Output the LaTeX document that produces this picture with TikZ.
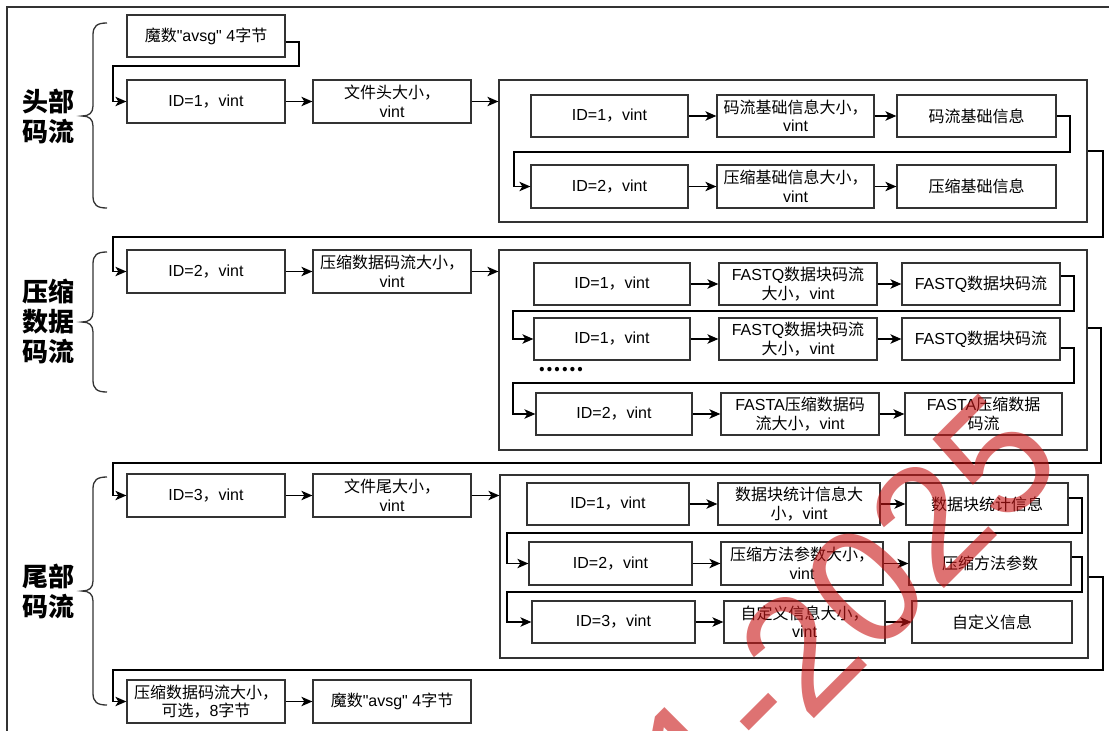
\documentclass[tikz,border=0pt]{standalone}
\usepackage{fontspec}
\setmainfont{Liberation Sans}[Ligatures=TeXOff]
\newfontfamily\cjkf{Noto Sans CJK SC}
\newcommand\C[1]{{\cjkf #1}}
\usetikzlibrary{arrows.meta}
\definecolor{ln}{RGB}{51,51,51}
\definecolor{wmred}{RGB}{200,20,20}
\tikzset{
  bx/.style={draw=ln, line width=1.3pt, inner sep=0pt, align=center, font=\fontsize{16}{18.5}\selectfont},
  arr/.style={draw=black, line width=1.2pt, -{Stealth[length=11pt,width=9.5pt,inset=3pt]}},
  brc/.style={draw=ln, line width=1.3pt},
  lab/.style={font=\fontsize{26}{30}\selectfont\cjkf\bfseries, align=center, inner sep=0pt},
  wm/.style={text=wmred, text opacity=0.6, font=\fontsize{165}{165}\selectfont, inner sep=0pt},
}
\newcommand\mybox[6]{\node[bx, minimum width={(#4-#2)*1pt}, minimum height={(#5-#3)*1pt}] (#1) at ({(#2+#4)/2},{(#3+#5)/2}) {#6};}
\newcommand\mybrace[3]{\draw[brc] (107,#1) .. controls (97,#1) and (93,#1+3) .. (93,#1+12) -- (93,#2-10) .. controls (93,#2-3) and (89,#2) .. (82,#2) .. controls (89,#2) and (93,#2+3) .. (93,#2+10) -- (93,#3-12) .. controls (93,#3-3) and (97,#3) .. (107,#3);}
\begin{document}
\begin{tikzpicture}[x=1pt,y=-1pt]
\useasboundingbox (0,0) rectangle (1109,731);
\fill[white] (0,0) rectangle (1109,731);
\draw[line width=2pt, draw=ln] (7,731) -- (7,7) -- (1109,7);

% labels and braces
\node[lab] (L1) at (48,116) {头部\\码流};
\node[lab] (L2) at (48,321) {压缩\\数据\\码流};
\node[lab] (L3) at (48,591) {尾部\\码流};
\mybrace{23}{116}{208}
\mybrace{252}{322}{392}
\mybrace{477}{591}{705}

% section 1
\mybox{m1}{127}{15}{285}{57}{\C{魔数}"avsg" 4\C{字节}}
\mybox{h1}{127}{80}{285}{123}{ID=1\C{，}vint}
\mybox{h2}{313}{80}{471}{123}{\C{文件头大小，}\\vint}
\mybox{F1}{499}{80}{1087}{222}{}
\mybox{a1}{531}{95}{688}{137}{ID=1\C{，}vint}
\mybox{a2}{717}{95}{874}{137}{\C{码流基础信息大小，}\\vint}
\mybox{a3}{897}{95}{1056}{137}{\C{码流基础信息}}
\mybox{b1}{531}{165}{688}{208}{ID=2\C{，}vint}
\mybox{b2}{717}{165}{874}{208}{\C{压缩基础信息大小，}\\vint}
\mybox{b3}{897}{165}{1056}{208}{\C{压缩基础信息}}

\draw[arr] ([yshift=-6pt]m1.east) -| (299,66) -- (113,66) |- (h1.west);
\draw[arr] (h1.east) -- (h2.west);
\draw[arr] (h2.east) -- (h2.east -| F1.west);
\draw[arr] (a1.east) -- (a2.west);
\draw[arr] (a2.east) -- (a3.west);
\draw[arr] (a3.east) -| (1070,152) -- (514,152) |- (b1.west);
\draw[arr] (b1.east) -- (b2.west);
\draw[arr] (b2.east) -- (b3.west);

% section 2
\mybox{s1}{127}{250}{285}{293}{ID=2\C{，}vint}
\mybox{s2}{313}{250}{471}{293}{\C{压缩数据码流大小，}\\vint}
\mybox{F2}{499}{250}{1087}{450}{}
\mybox{c1}{534}{263}{690}{305}{ID=1\C{，}vint}
\mybox{c2}{719}{263}{877}{305}{FASTQ\C{数据块码流}\\\C{大小，}vint}
\mybox{c3}{902}{263}{1060}{305}{FASTQ\C{数据块码流}}
\mybox{d1}{534}{318}{690}{360}{ID=1\C{，}vint}
\mybox{d2}{719}{318}{877}{360}{FASTQ\C{数据块码流}\\\C{大小，}vint}
\mybox{d3}{902}{318}{1060}{360}{FASTQ\C{数据块码流}}
\node[font=\fontsize{20}{20}\selectfont\cjkf\bfseries, inner sep=0pt] (dots) at (561,370) {……};
\mybox{e1}{536}{393}{692}{435}{ID=2\C{，}vint}
\mybox{e2}{721}{393}{879}{435}{FASTA\C{压缩数据码}\\\C{流大小，}vint}
\mybox{e3}{905}{393}{1062}{435}{FASTA\C{压缩数据}\\\C{码流}}

\draw[arr] (F1.east) -| (1103,237) -- (113,237) |- (s1.west);
\draw[arr] (s1.east) -- (s2.west);
\draw[arr] (s2.east) -- (s2.east -| F2.west);
\draw[arr] (c1.east) -- (c2.west);
\draw[arr] (c2.east) -- (c3.west);
\draw[arr] ([yshift=8pt]c3.east) -| (1074,311) -- (513,311) |- (d1.west);
\draw[arr] (d1.east) -- (d2.west);
\draw[arr] (d2.east) -- (d3.west);
\draw[arr] ([yshift=-9pt]d3.east) -| (1074,383) -- (513,383) |- (e1.west);
\draw[arr] (e1.east) -- (e2.west);
\draw[arr] (e2.east) -- (e3.west);

% section 3
\mybox{t1}{127}{474}{285}{517}{ID=3\C{，}vint}
\mybox{t2}{313}{474}{471}{517}{\C{文件尾大小，}\\vint}
\mybox{F3}{500}{475}{1088}{658}{}
\mybox{g1}{527}{483}{689}{525}{ID=1\C{，}vint}
\mybox{g2}{718}{483}{880}{525}{\C{数据块统计信息大}\\\C{小，}vint}
\mybox{g3}{906}{483}{1068}{525}{\C{数据块统计信息}}
\mybox{k1}{529}{542}{692}{585}{ID=2\C{，}vint}
\mybox{k2}{721}{542}{883}{585}{\C{压缩方法参数大小，}\\vint}
\mybox{k3}{909}{542}{1071}{585}{\C{压缩方法参数}}
\mybox{l1}{532}{601}{695}{643}{ID=3\C{，}vint}
\mybox{l2}{724}{601}{885}{643}{\C{自定义信息大小，}\\vint}
\mybox{l3}{912}{601}{1072}{643}{\C{自定义信息}}
\mybox{z1}{127}{680}{285}{723}{\C{压缩数据码流大小，}\\\C{可选，}8\C{字节}}
\mybox{z2}{313}{680}{471}{723}{\C{魔数}"avsg" 4\C{字节}}

\draw[arr] ([yshift=22pt]F2.east) -| (1101,463) -- (113,463) |- (t1.west);
\draw[arr] (t1.east) -- (t2.west);
\draw[arr] (t2.east) -- (t2.east -| F3.west);
\draw[arr] (g1.east) -- (g2.west);
\draw[arr] (g2.east) -- (g3.west);
\draw[arr] ([yshift=6pt]g3.east) -| (1082,533) -- (507,533) |- (k1.west);
\draw[arr] (k1.east) -- (k2.west);
\draw[arr] (k2.east) -- (k3.west);
\draw[arr] ([yshift=6.5pt]k3.east) -| (1082,592) -- (507,592) |- (l1.west);
\draw[arr] (l1.east) -- (l2.west);
\draw[arr] (l2.east) -- (l3.west);
\draw[arr] ([yshift=-10.5pt]F3.east) -| (1103,670) -- (113,670) |- (z1.west);
\draw[arr] (z1.east) -- (z2.west);

% watermark
\node[wm, rotate=45, anchor=base west] (wmk) at (705,828) {1-2025};
\end{tikzpicture}
\end{document}
